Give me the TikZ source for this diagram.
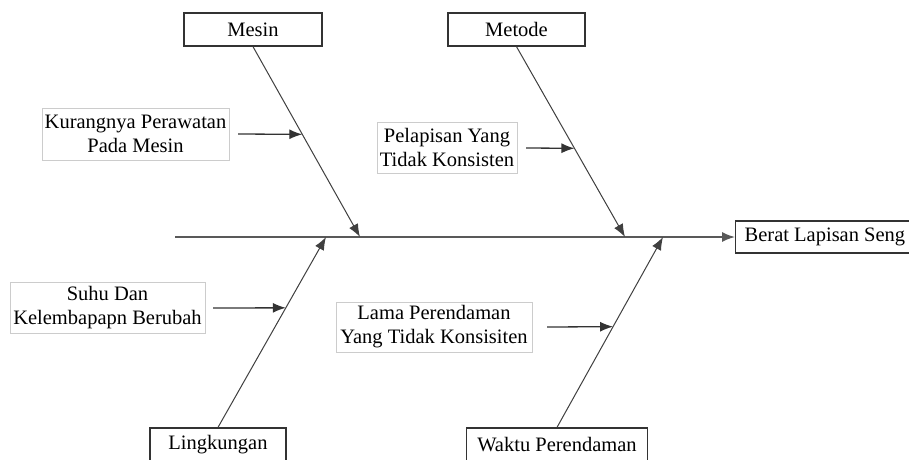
\documentclass[tikz,border=0pt]{standalone}
\usepackage{fontspec}
\setmainfont{Liberation Serif}
\usetikzlibrary{arrows.meta,calc}
\begin{document}
\begin{tikzpicture}[x=1pt,y=-1pt,
  font=\fontsize{20.5}{24}\selectfont,
  catbox/.style={draw=black!80,line width=1.3pt,inner sep=0pt,align=center},
  causebox/.style={draw=black!20,line width=0.8pt,inner sep=0pt,align=center},
  bone/.style={draw=black!75,line width=1pt,-{Latex[length=13pt,width=10pt]}},
  spine/.style={draw=black!65,line width=1.6pt,-{Latex[length=13pt,width=10pt]}},
  causearrow/.style={draw=black!80,line width=1.3pt,-{Latex[length=13pt,width=10pt]}}]
\clip (0,0) rectangle (909,459);
\fill[white] (0,0) rectangle (909,459);
% category boxes
\node[catbox,minimum width=138pt,minimum height=33pt] (mesin) at (253,29.5) {Mesin};
\node[catbox,minimum width=137pt,minimum height=33pt] (metode) at (516.5,29.5) {Metode};
\node[catbox,minimum width=136pt,minimum height=33pt] (ling) at (218,444.5) {Lingkungan};
\node[catbox,minimum width=181pt,minimum height=33pt] (waktu) at (557,444.5) {Waktu Perendaman};
\node[catbox,anchor=west,minimum height=32pt,minimum width=200pt,inner xsep=9pt] (berat) at (735,237) {Berat Lapisan Seng\hspace*{22pt}};
% spine
\coordinate (tail) at (175,237);
\draw[spine] (tail) -- (berat.west);
% bone ends on spine
\coordinate (m1) at (360,237);
\coordinate (t1) at (625,237);
\coordinate (l1) at (326,237);
\coordinate (w1) at (663,237);
\draw[bone] (mesin.south) -- (m1);
\draw[bone] (metode.south) -- (t1);
\draw[bone] (ling.north) -- (l1);
\draw[bone] (waktu.north) -- (w1);
% cause boxes
\node[causebox,minimum width=187pt,minimum height=52pt] (c1) at (135.5,134) {Kurangnya Perawatan\\Pada Mesin};
\node[causebox,minimum width=140pt,minimum height=51pt] (c2) at (447,147.5) {Pelapisan Yang\\Tidak Konsisten};
\node[causebox,minimum width=195pt,minimum height=51pt] (c3) at (107.5,307.5) {Suhu Dan\\Kelembapapn Berubah};
\node[causebox,minimum width=196pt,minimum height=50pt] (c4) at (434,327) {Lama Perendaman\\Yang Tidak Konsisiten};
% points on bones
\coordinate (p1) at ($(mesin.south)!0.4607!(m1)$);
\coordinate (p2) at ($(metode.south)!0.534!(t1)$);
\coordinate (p3) at ($(ling.north)!0.628!(l1)$);
\coordinate (p4) at ($(waktu.north)!0.529!(w1)$);
\coordinate (s1) at (238,134);
\coordinate (s2) at (526,148);
\coordinate (s3) at (213,308);
\coordinate (s4) at (547,327);
\draw[causearrow] (s1) -- (p1);
\draw[causearrow] (s2) -- (p2);
\draw[causearrow] (s3) -- (p3);
\draw[causearrow] (s4) -- (p4);
\end{tikzpicture}
\end{document}
